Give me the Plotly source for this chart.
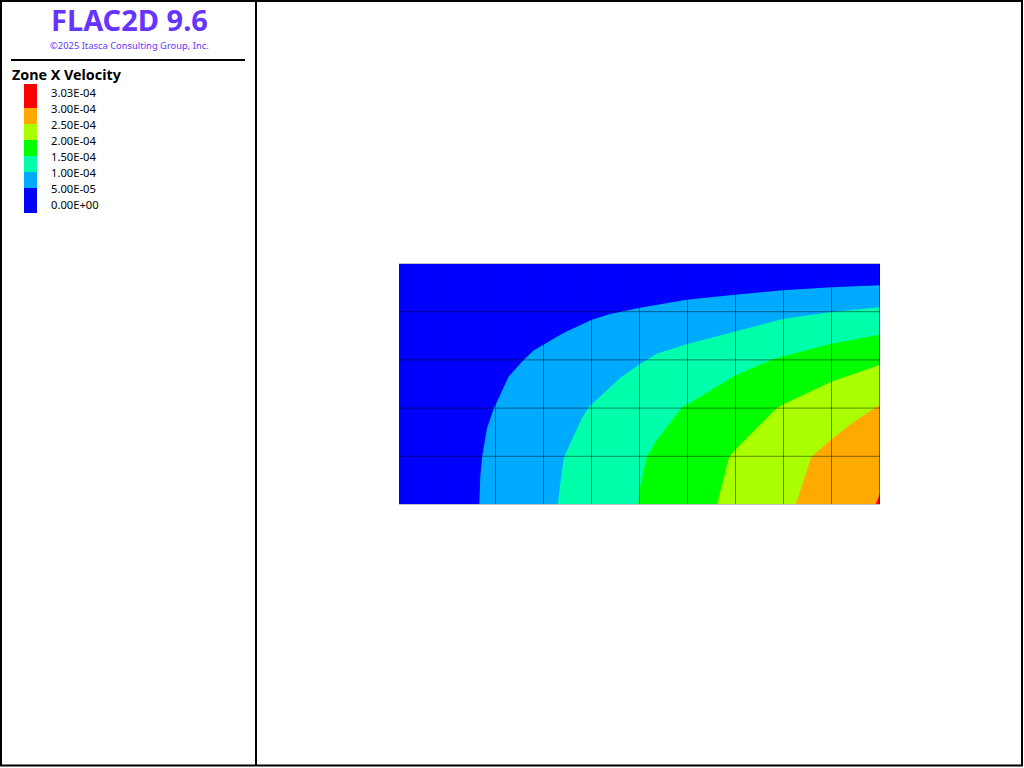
import plotly.graph_objects as go

W, H = 1024, 768

# Model grid
zone_x = [0, 1, 2, 3, 4, 5, 6, 7, 8, 9, 10]
zone_y = [0, 1, 2, 3, 4, 5]

# Contour bands: lower boundary of the region above each level
level_labels = ["3.03E-04", "3.00E-04", "2.50E-04", "2.00E-04", "1.50E-04", "1.00E-04", "5.00E-05", "0.00E+00"]
band_colors = ["#ff0000", "#ffaa00", "#aaff00", "#00ff00", "#00ffaa", "#00aaff", "#0000ff"]

c050_x = [1.663, 1.684, 1.726, 1.823, 1.975, 2.031, 2.272, 2.584, 2.792, 3.0, 3.416, 4.006, 4.387, 5.01, 5.981, 6.985, 7.99, 8.996, 10]
c050_y = [0, 0.604, 1.021, 1.583, 2.027, 2.131, 2.652, 3.0, 3.194, 3.313, 3.556, 3.833, 3.952, 4.083, 4.25, 4.354, 4.444, 4.506, 4.548]
c100_x = [3.299, 3.362, 3.43, 3.555, 3.798, 3.95, 4.318, 4.595, 5.01, 5.358, 5.981, 6.985, 7.99, 8.996, 10]
c100_y = [0, 0.542, 0.985, 1.271, 1.792, 2.027, 2.375, 2.625, 2.917, 3.125, 3.327, 3.59, 3.848, 3.994, 4.09]
c150_x = [4.975, 5.01, 5.15, 5.358, 5.877, 6.015, 6.985, 7.782, 7.99, 8.996, 10]
c150_y = [0, 0.36, 0.985, 1.333, 2.006, 2.083, 2.673, 3.015, 3.069, 3.333, 3.521]
c200_x = [6.617, 6.867, 6.985, 7.852, 7.99, 8.613, 8.996, 10]
c200_y = [0, 0.985, 1.125, 1.994, 2.077, 2.375, 2.548, 2.896]
c250_x = [8.254, 8.58, 8.996, 9.516, 10]
c250_y = [0, 0.985, 1.354, 1.75, 2.063]
c300_x = [9.917, 10]
c300_y = [0, 0.223]

PURPLE = "#6633ff"
FONT = "Noto Sans"

# Half a pixel of padding around the model so the 1px mesh lines sit on pixel centres
x_lo, x_hi = zone_x[0] - 0.5 / 48, zone_x[-1] + 0.5 / 48
y_lo, y_hi = zone_y[0] - 0.5 / 48.2, zone_y[-1] + 0.5 / 48.2

fig = go.Figure()

# Background band (lowest level) over the whole model
fig.add_trace(go.Scatter(
    x=[x_lo, x_hi, x_hi, x_lo, x_lo],
    y=[zone_y[0], zone_y[0], zone_y[-1], zone_y[-1], zone_y[0]],
    mode="lines", fill="toself", fillcolor=band_colors[6], line=dict(width=0), hoverinfo="skip"))

bands = [(c050_x, c050_y, 5), (c100_x, c100_y, 4), (c150_x, c150_y, 3),
         (c200_x, c200_y, 2), (c250_x, c250_y, 1), (c300_x, c300_y, 0)]
for bx, by, ci in bands:
    fig.add_trace(go.Scatter(
        x=bx + [x_hi, x_hi, bx[0]], y=by + [by[-1], zone_y[0], by[0]],
        mode="lines", fill="toself", fillcolor=band_colors[ci], line=dict(width=0), hoverinfo="skip"))

# Zone mesh (interior lines and right edge)
gx, gy = [], []
for v in zone_x[1:]:
    gx += [v, v, None]
    gy += [zone_y[0], zone_y[-1], None]
for v in zone_y[1:-1]:
    gx += [x_lo, x_hi, None]
    gy += [v, v, None]
fig.add_trace(go.Scatter(x=gx, y=gy, mode="lines",
                         line=dict(color="rgba(0,0,0,0.45)", width=1), hoverinfo="skip"))

# Light outline on the top and bottom edges
fig.add_trace(go.Scatter(
    x=[x_lo, x_hi, None, x_lo, x_hi],
    y=[zone_y[-1], zone_y[-1], None, zone_y[0], zone_y[0]],
    mode="lines", line=dict(color="#c0c0c0", width=1), hoverinfo="skip"))


def px(v):
    return v / W


def py(v):
    return 1 - v / H


def rect(x0, y0, x1, y1, **kw):
    return dict(type="rect", xref="paper", yref="paper", x0=px(x0), x1=px(x1), y0=py(y0), y1=py(y1), **kw)


def line(x0, y0, x1, y1, width=2):
    return dict(type="line", xref="paper", yref="paper", x0=px(x0), x1=px(x1), y0=py(y0), y1=py(y1),
                line=dict(color="black", width=width))


shapes = [
    rect(1, 1, 1022, 765.5, line=dict(color="black", width=2), fillcolor="rgba(0,0,0,0)"),
    line(256, 0, 256, 766),
    line(11, 60, 245, 60),
]
swatch_edges = [84, 108, 124, 140, 156, 172, 188, 213]
for i, color in enumerate(band_colors):
    shapes.append(rect(24, swatch_edges[i], 37, swatch_edges[i + 1], fillcolor=color, line=dict(width=0)))


def text(x, y, s, size, color="black", anchor="left", bold=False, family=FONT):
    return dict(xref="paper", yref="paper", x=px(x), y=py(y), text=f"<b>{s}</b>" if bold else s, showarrow=False,
                xanchor=anchor, yanchor="middle", font=dict(size=size, color=color, family=family))


annotations = [
    text(129, 20, "FLAC2D 9.6", 29, PURPLE, "center", True),
    text(129, 45.5, "©2025 Itasca Consulting Group, Inc.", 9.4, PURPLE, "center"),
    text(10, 74.5, "Zone X Velocity", 14.3, bold=True),
]
for i, lab in enumerate(level_labels):
    annotations.append(text(49, 92.5 + 16 * i, lab, 11.2))

fig.update_layout(
    width=W, height=H, autosize=False,
    margin=dict(l=0, r=0, t=0, b=0, pad=0),
    paper_bgcolor="white", plot_bgcolor="white", showlegend=False,
    shapes=shapes, annotations=annotations,
    xaxis=dict(domain=[399 / W, 880 / W], range=[x_lo, x_hi], visible=False, fixedrange=True),
    yaxis=dict(domain=[1 - 505 / H, 1 - 263 / H], range=[y_lo, y_hi], visible=False, fixedrange=True),
)
fig.write_html("out.html", config=dict(displayModeBar=False),
               post_script="document.body.style.margin='0';document.body.style.overflow='hidden';")
